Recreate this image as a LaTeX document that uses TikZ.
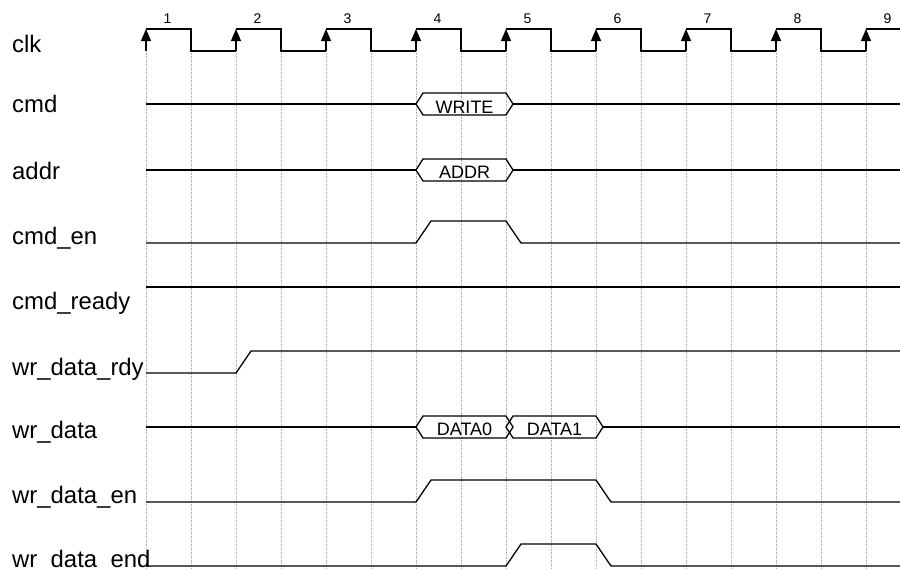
\documentclass[tikz,border=0pt]{standalone}
\usepackage{fontspec}
\setmainfont{Liberation Sans}
\usetikzlibrary{arrows.meta}

% one bus value: hexagon from #1 to #2 (x), centred on #3 (y)
\newcommand{\busval}[3]{%
  \draw[sig] (#1,#3) -- (#1+7,#3-11) -- (#2,#3-11) -- (#2+7,#3) -- (#2,#3+11) -- (#1+7,#3+11) -- cycle;}

\begin{document}
\begin{tikzpicture}[x=1pt, y=-1pt,
		sig/.style={line width=1.3pt, line join=miter},
		gridl/.style={densely dotted, black!30, line width=0.6pt},
		lbl/.style={anchor=base west, inner sep=0pt, font=\fontsize{23.9}{27}\selectfont},
		num/.style={anchor=base, inner sep=0pt, font=\fontsize{14}{16}\selectfont},
		val/.style={anchor=base, inner sep=0pt, font=\fontsize{18}{20}\selectfont}]
		\useasboundingbox[fill=white] (0,0) rectangle (900,568);

		% grid
		\foreach \x in {146,191,...,866}
			\draw[gridl] (\x,51) -- (\x,568);

		% signal names
		\node[lbl] (clk)       at (12,52)  {clk};
		\node[lbl] (cmd)       at (12,112) {cmd};
		\node[lbl] (addr)      at (12,179) {addr};
		\node[lbl] (cmden)     at (12,244) {cmd\_en};
		\node[lbl] (cmdready)  at (12,309) {cmd\_ready};
		\node[lbl] (wrdatardy) at (12,375) {wr\_data\_rdy};
		\node[lbl] (wrdata)    at (12,438) {wr\_data};
		\node[lbl] (wrdataen)  at (12,503) {wr\_data\_en};
		\node[lbl] (wrdataend) at (12,567) {wr\_data\_end};

		% clk
		\foreach \x [count=\n] in {146,236,...,866} {
			\node[num] (c\n) at (\x+21.5,23) {\n};
			\draw[sig, -{Triangle[length=12pt,width=10pt]}] (\x,51) -- (\x,29);
		}
		\foreach \x in {146,236,...,776}
			\draw[sig] (\x,29) -- (\x+45,29) -- (\x+45,51) -- (\x+90,51);
		\draw[sig] (866,29) -- (900,29);

		% cmd / addr
		\draw[sig] (146,104) -- (416,104) (513,104) -- (900,104);
		\busval{416}{506}{104}
		\node[val] (vwrite) at (464.5,113) {WRITE};
		\draw[sig] (146,170) -- (416,170) (513,170) -- (900,170);
		\busval{416}{506}{170}
		\node[val] (vaddr) at (464.5,178.5) {ADDR};

		% cmd_en, cmd_ready, wr_data_rdy
		\draw[sig] (146,243) -- (416,243) -- (431,221) -- (506,221) -- (521,243) -- (900,243);
		\draw[sig] (146,287) -- (900,287);
		\draw[sig] (146,373) -- (236,373) -- (251,351) -- (900,351);

		% wr_data
		\draw[sig] (146,427) -- (416,427) (603,427) -- (900,427);
		\busval{416}{506}{427}
		\busval{506}{596}{427}
		\node[val] (vdata0) at (464.5,435.5) {DATA0};
		\node[val] (vdata1) at (554.5,435.5) {DATA1};

		% wr_data_en, wr_data_end
		\draw[sig] (146,502) -- (416,502) -- (431,480) -- (596,480) -- (611,502) -- (900,502);
		\draw[sig] (146,566) -- (506,566) -- (521,544) -- (596,544) -- (611,566) -- (900,566);
	\end{tikzpicture}
\end{document}
